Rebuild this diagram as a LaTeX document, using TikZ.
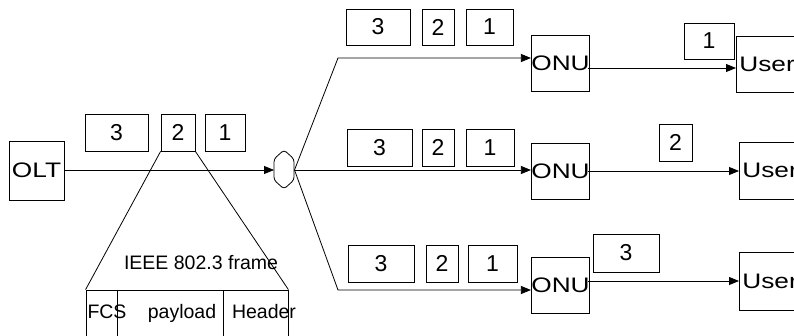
\documentclass[tikz,border=0pt]{standalone}
\usepackage{fontspec}
\setmainfont{Liberation Sans}
\newfontfamily\widefont{Liberation Sans}[FakeStretch=1.25]
\usetikzlibrary{arrows.meta}
\begin{document}
\begin{tikzpicture}[x=1pt,y=-1pt,line width=0.8pt,
  pkt/.style={draw,inner sep=0pt,minimum height=37pt,font=\fontsize{23}{25}\selectfont},
  dev/.style={draw,inner sep=0pt,minimum width=55pt,minimum height=57pt,font=\widefont\fontsize{21}{24}\selectfont},
  usr/.style={draw,inner sep=0pt,minimum width=80pt,minimum height=57pt,anchor=west,
    font=\widefont\fontsize{21}{24}\selectfont,align=left,text width=74pt},
  lbl/.style={inner sep=0pt,anchor=base,font=\fontsize{19.5}{22}\selectfont},
  arr/.style={-{Triangle[length=10pt,width=8pt]}}]
\useasboundingbox (0,0) rectangle (794,336);
\clip (0,0) rectangle (794,336);
% OLT and splitter
\node[dev,minimum height=59pt] (olt) at (36.5,170.5) {OLT};
\draw[rounded corners=3pt] (284,150) -- (294,159) -- (294,180) -- (284,189) -- (274,180) -- (274,159) -- cycle;
\coordinate (spw) at (274,170);
\coordinate (spe) at (294.5,170);
\draw[arr] (olt.east |- spw) -- (spw);
% packets on trunk
\node[pkt,minimum width=63pt] (t3) at (116.5,132.5) {3};
\node[pkt,minimum width=34pt] (t2) at (178,132.5) {2};
\node[pkt,minimum width=40pt] (t1) at (225,132.5) {1};
% frame
\node[draw,inner sep=0pt,minimum width=202pt,minimum height=46pt] (frame) at (187,313) {};
\draw (117,290) -- (117,336) (223,290) -- (223,336);
\node[lbl] (fcs) at (107,318) {FCS};
\node[lbl] (pay) at (182,318) {payload};
\node[lbl] (hdr) at (264,318) {Header};
\node[lbl] (ieee) at (201,270) {IEEE 802.3 frame};
\draw (t2.south west) -- (frame.north west);
\draw (t2.south east) -- (frame.north east);
% ONUs
\node[dev,minimum height=56pt] (onu1) at (560.5,63) {ONU};
\node[dev,minimum height=56pt] (onu2) at (560.5,171) {ONU};
\node[dev,minimum height=56pt] (onu3) at (560.5,285) {ONU};
% branches
\coordinate (b1) at (338,58);
\coordinate (b3) at (338,290);
\draw[arr] (spe) -- (b1) -- (b1 -| onu1.west);
\draw[arr] (spe) -- (spe -| onu2.west);
\draw[arr] (spe) -- (b3) -- (b3 -| onu3.west);
% packet rows
\node[pkt,minimum width=64pt,minimum height=36pt] (a3) at (378,27) {3};
\node[pkt,minimum width=32pt,minimum height=36pt] (a2) at (438,27) {2};
\node[pkt,minimum width=47pt,minimum height=36pt] (a1) at (489.5,27) {1};
\node[pkt,minimum width=65pt] (m3) at (379.5,147.5) {3};
\node[pkt,minimum width=32pt] (m2) at (438,147.5) {2};
\node[pkt,minimum width=48pt] (m1) at (490,147.5) {1};
\node[pkt,minimum width=66pt] (c3) at (381,263.5) {3};
\node[pkt,minimum width=32pt] (c2) at (442,263.5) {2};
\node[pkt,minimum width=49pt] (c1) at (492.5,263.5) {1};
% users
\node[usr,minimum height=56pt] (u1) at (736,64) {User};
\node[usr] (u2) at (739,170.5) {User};
\node[usr,minimum height=58pt] (u3) at (739,281) {User};
\coordinate (o1) at (588,68);
\coordinate (o2) at (588,171);
\coordinate (o3) at (588,281);
\draw[arr] (o1) -- (o1 -| u1.west);
\draw[arr] (o2) -- (o2 -| u2.west);
\draw[arr] (o3) -- (o3 -| u3.west);
% delivered packets
\node[pkt,minimum width=50pt,minimum height=36pt] (d1) at (709,41) {1};
\node[pkt,minimum width=33pt] (d2) at (675.5,142.5) {2};
\node[pkt,minimum width=66pt,minimum height=38pt] (d3) at (626,253) {3};
\end{tikzpicture}
\end{document}
